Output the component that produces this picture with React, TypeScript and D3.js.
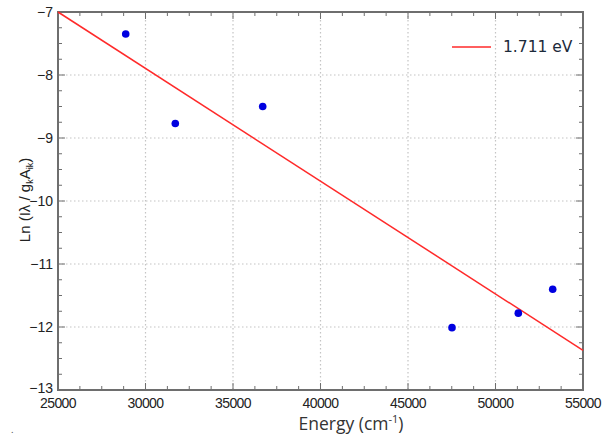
import React from "react";
import * as d3 from "d3";

const xTicks = [25000, 30000, 35000, 40000, 45000, 50000, 55000];
const yTicks = [-7, -8, -9, -10, -11, -12, -13];
const pointsX = [28869, 31703, 36697, 47514, 51303, 53269];
const pointsY = [-7.35, -8.77, -8.5, -12.01, -11.78, -11.4];
const fitX = [25000, 55000];
const fitY = [-7, -12.37];
const legendLabel = "1.711 eV";

const W = 603;
const H = 436;
const M = { left: 58, top: 12, right: 583, bottom: 390 };

export default function App() {
  const x = d3.scaleLinear().domain([25000, 55000]).range([M.left, M.right]);
  const y = d3.scaleLinear().domain([-13, -7]).range([M.bottom, M.top]);
  const xMinor = d3.range(25000, 55001, 1250).filter((v) => v % 5000 !== 0);
  const yMinor = d3.range(-13, -6.99, 0.25).filter((v) => Math.abs(v - Math.round(v)) > 1e-6);
  const line = d3
    .line<number>()
    .x((_, i) => x(fitX[i]))
    .y((d) => y(d));
  const frame = "#6e6e6e";
  const grid = "#c4c4c4";
  return (
    <svg
      width={W}
      height={H}
      style={{ position: "absolute", left: 0, top: 0, background: "#fff" }}
    >
      {/* grid */}
      {xTicks.slice(1, -1).map((t) => (
        <line key={"gx" + t} x1={x(t)} x2={x(t)} y1={M.top} y2={M.bottom} stroke={grid} strokeWidth={1.2} strokeDasharray="1.5,2.5" />
      ))}
      {yTicks.slice(1, -1).map((t) => (
        <line key={"gy" + t} x1={M.left} x2={M.right} y1={y(t)} y2={y(t)} stroke={grid} strokeWidth={1.2} strokeDasharray="1.5,2.5" />
      ))}
      {/* minor ticks */}
      {xMinor.map((t) => (
        <g key={"mx" + t}>
          <line x1={x(t)} x2={x(t)} y1={M.bottom} y2={M.bottom - 4} stroke={frame} strokeWidth={1} />
          <line x1={x(t)} x2={x(t)} y1={M.top} y2={M.top + 4} stroke={frame} strokeWidth={1} />
        </g>
      ))}
      {yMinor.map((t) => (
        <g key={"my" + t}>
          <line x1={M.left} x2={M.left + 4} y1={y(t)} y2={y(t)} stroke={frame} strokeWidth={1} />
          <line x1={M.right} x2={M.right - 4} y1={y(t)} y2={y(t)} stroke={frame} strokeWidth={1} />
        </g>
      ))}
      {xTicks.map((t) => (
        <g key={"Mx" + t}>
          <line x1={x(t)} x2={x(t)} y1={M.bottom} y2={M.bottom - 7} stroke={frame} strokeWidth={1} />
          <line x1={x(t)} x2={x(t)} y1={M.top} y2={M.top + 7} stroke={frame} strokeWidth={1} />
        </g>
      ))}
      {yTicks.map((t) => (
        <g key={"My" + t}>
          <line x1={M.left} x2={M.left + 7} y1={y(t)} y2={y(t)} stroke={frame} strokeWidth={1} />
          <line x1={M.right} x2={M.right - 7} y1={y(t)} y2={y(t)} stroke={frame} strokeWidth={1} />
        </g>
      ))}
      {/* frame */}
      <rect x={M.left} y={M.top} width={M.right - M.left} height={M.bottom - M.top} fill="none" stroke={frame} strokeWidth={2} />
      {/* tick labels */}
      {xTicks.map((t) => (
        <text key={"tx" + t} x={x(t)} y={M.bottom + 18} textAnchor="middle" fontFamily="Liberation Sans, Arial, sans-serif" fontSize={14} fill="#222" style={{ letterSpacing: "-0.6px" }}>
          {t}
        </text>
      ))}
      {yTicks.map((t) => (
        <text key={"ty" + t} x={M.left - 5} y={y(t) + (t === -13 ? 3 : 5)} textAnchor="end" fontFamily="Liberation Sans, Arial, sans-serif" fontSize={14} fill="#222">
          {"\u2212" + Math.abs(t)}
        </text>
      ))}
      {/* fit line */}
      <path d={line(fitY) || ""} fill="none" stroke="#ff2a2a" strokeWidth={1.5} />
      {/* points */}
      {pointsX.map((px, i) => (
        <circle key={"p" + i} cx={x(px)} cy={y(pointsY[i])} r={3.8} fill="#0000e0" />
      ))}
      {/* legend */}
      <line x1={452} x2={491} y1={47} y2={47} stroke="#ff2a2a" strokeWidth={1.5} />
      <text x={503} y={52} fontFamily="DejaVu Sans, Verdana, sans-serif" fontSize={15.5} fill="#1c2a3a">
        {legendLabel}
      </text>
      {/* axis labels */}
      <text x={351} y={430} textAnchor="middle" fontFamily="Open Sans, Carlito, sans-serif" fontSize={17.5} fill="#333">
        Energy (cm
        <tspan dy={-7} fontSize={11}>-1</tspan>
        <tspan dy={7}>)</tspan>
      </text>
      <text transform="translate(30,200) rotate(-90)" textAnchor="middle" fontFamily="Liberation Sans, Arial, sans-serif" fontSize={15} fill="#222">
        Ln (Iλ / g
        <tspan dy={3} fontSize={9}>k</tspan>
        <tspan dy={-3}>A</tspan>
        <tspan dy={3} fontSize={9}>ik</tspan>
        <tspan dy={-3}>)</tspan>
      </text>
      <text x={11} y={433} fontSize={10} fill="#555">.</text>
    </svg>
  );
}
